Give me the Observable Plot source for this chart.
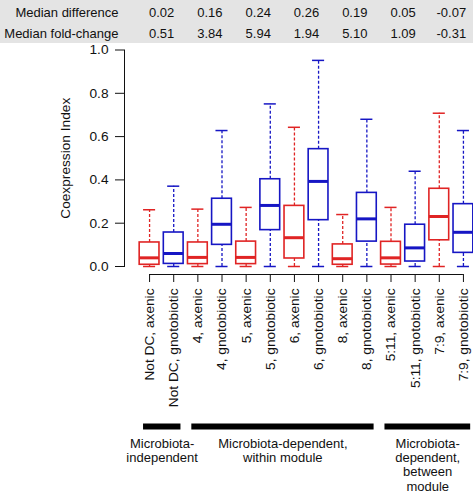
<!DOCTYPE html>
<html><head><meta charset="utf-8">
<script src="https://cdn.jsdelivr.net/npm/d3@7"></script>
<script src="https://cdn.jsdelivr.net/npm/@observablehq/plot@0.6"></script>
<style>
body{margin:0;background:#fff;}
#chart{width:473px;height:494px;background:linear-gradient(#e4e4e4 0,#e4e4e4 43px,#fff 43px);}
#chart svg{background:transparent !important;font-family:"Liberation Sans",Arial,sans-serif;overflow:visible;}
</style></head><body><div id="chart"></div>
<script>
const categories = ["Not DC, axenic","Not DC, gnotobiotic","4, axenic","4, gnotobiotic","5, axenic","5, gnotobiotic","6, axenic","6, gnotobiotic","8, axenic","8, gnotobiotic","5:11, axenic","5:11, gnotobiotic","7:9, axenic","7:9, gnotobiotic"];
const whiskerLow  = [0,0,0,0,0,0,0,0,0,0,0,0,0,0];
const q1          = [0.008,0.012,0.011,0.100,0.011,0.168,0.037,0.214,0.008,0.115,0.009,0.023,0.121,0.063];
const medians     = [0.040,0.060,0.042,0.195,0.042,0.282,0.133,0.393,0.036,0.220,0.040,0.086,0.231,0.158];
const q3          = [0.111,0.157,0.111,0.313,0.115,0.403,0.280,0.542,0.102,0.340,0.114,0.193,0.359,0.288];
const whiskerHigh = [0.262,0.371,0.265,0.628,0.273,0.751,0.643,0.952,0.240,0.680,0.273,0.440,0.708,0.628];
const yTicks = [0,0.2,0.4,0.6,0.8,1.0];
const tableRows = ["Median difference","Median fold-change"];
const medianDifference = ["0.02","0.16","0.24","0.26","0.19","0.05","-0.07"];
const medianFoldChange = ["0.51","3.84","5.94","1.94","5.10","1.09","-0.31"];
const groupLabels = ["Microbiota-\nindependent","Microbiota-dependent,\nwithin module","Microbiota-\ndependent,\nbetween\nmodule"];
const groupFirst = [1,3,11];
const groupLast  = [2,10,14];

const boxes = categories.map((c,i)=>({
  pos:i+1, cat:c, cond: c.endsWith("axenic") ? "axenic" : "gnotobiotic",
  lo:whiskerLow[i], q1:q1[i], med:medians[i], q3:q3[i], hi:whiskerHigh[i]
}));
const positions = boxes.map(d=>d.pos);
const groups = groupLabels.map((l,i)=>({label:l, first:groupFirst[i], last:groupLast[i]}));
const rowData = [medianDifference, medianFoldChange];

const RED = "#e02424", BLUE = "#1616c4";
const half = 0.41, cap = 0.25;
const font = 13.7;

const tableMarks = [];
tableRows.forEach((r,k)=>{
  const dy = k === 0 ? -37.5 : -16.5;
  tableMarks.push(Plot.text([r], {frameAnchor:"top-left", dx:-6, dy, textAnchor:"end", lineAnchor:"middle", fontSize:13, fill:"#111"}));
  tableMarks.push(Plot.text(rowData[k], {x:(d,i)=>2*i+1.5, frameAnchor:"top", dy, text:d=>d, textAnchor:"middle", lineAnchor:"middle", fontSize:13, fill:"#111"}));
});

const plot = Plot.plot({
  width:473, height:494,
  marginTop:49.5, marginBottom:228, marginLeft:124, marginRight:0,
  x:{domain:[0.5,14.5], range:[137,475], axis:null},
  y:{domain:[0,1], axis:null},
  color:{domain:["axenic","gnotobiotic"], range:[RED,BLUE]},
  style:{fontFamily:"Liberation Sans, Arial, sans-serif", fontSize:"13px", background:"transparent", color:"#111"},
  marks:[
    Plot.frame({anchor:"left", stroke:"#111"}),
    Plot.axisY({ticks:yTicks, tickFormat:d3.format(".1f"), tickSize:9, tickPadding:7, fontSize:font, label:null, stroke:"#111", fill:"#111"}),
    Plot.text(["Coexpression Index"], {frameAnchor:"left", textAnchor:"middle", lineAnchor:"middle", rotate:-90, dx:-59, fontSize:font, fill:"#111"}),
    Plot.ruleY([0], {x1:positions[0], x2:positions[positions.length-1], dy:8, stroke:"#111"}),
    Plot.axisX({ticks:positions, tickFormat:i=>categories[i-1], tickSize:8, dy:8, tickRotate:-90, tickPadding:6, fontSize:font, label:null, stroke:"#111", fill:"#111"}),
    // whiskers
    Plot.ruleX(boxes, {x:"pos", y1:"q3", y2:"hi", stroke:"cond", strokeDasharray:"3,2", strokeWidth:1.3}),
    Plot.ruleX(boxes, {x:"pos", y1:"lo", y2:"q1", stroke:"cond", strokeDasharray:"3,2", strokeWidth:1.3}),
    Plot.ruleY(boxes, {y:"hi", x1:d=>d.pos-cap, x2:d=>d.pos+cap, stroke:"cond", strokeWidth:1.5}),
    Plot.ruleY(boxes, {y:"lo", x1:d=>d.pos-cap, x2:d=>d.pos+cap, stroke:"cond", strokeWidth:1.5}),
    // boxes
    Plot.rect(boxes, {x1:d=>d.pos-half, x2:d=>d.pos+half, y1:"q1", y2:"q3", stroke:"cond", fill:"white", strokeWidth:1.6}),
    Plot.ruleY(boxes, {y:"med", x1:d=>d.pos-half, x2:d=>d.pos+half, stroke:"cond", strokeWidth:3}),
    ...tableMarks,
    // group bars and labels
    Plot.ruleY(groups, {y:()=>0, x1:d=>d.first-0.25, x2:d=>d.last+0.3, dy:160, stroke:"black", strokeWidth:6}),
    Plot.text(groups, {x:d=>(d.first+d.last)/2+0.02, y:()=>0, dy:171, lineAnchor:"top", text:"label", lineHeight:1.1, fontSize:13, fill:"#111"})
  ]
});
document.getElementById("chart").appendChild(plot);
</script></body></html>
